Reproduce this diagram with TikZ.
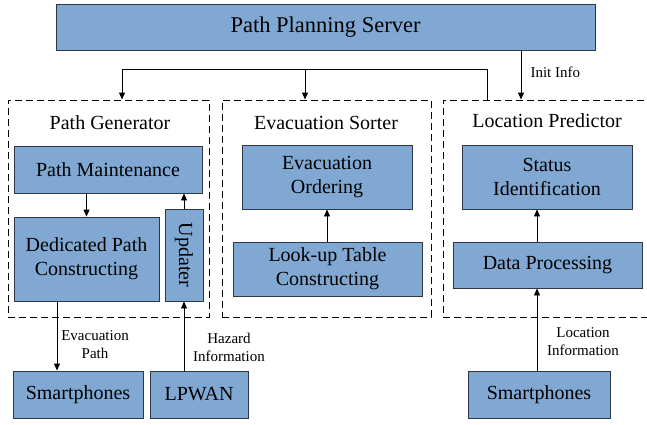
\documentclass[tikz,border=0pt]{standalone}
\usepackage{fontspec}
\setmainfont{Liberation Serif}
\usetikzlibrary{arrows.meta}
\definecolor{boxblue}{RGB}{128,168,210}
\definecolor{boxline}{RGB}{45,55,70}
\begin{document}
\begin{tikzpicture}[x=1pt,y=-1pt,
  blk/.style={draw=boxline, line width=0.9pt, fill=boxblue, inner sep=0pt, align=center, font=\fontsize{20}{24}\selectfont},
  grp/.style={draw=black, line width=0.9pt, dash pattern=on 7pt off 4pt, inner sep=0pt},
  ttl/.style={font=\fontsize{20}{24}\selectfont},
  lbl/.style={font=\fontsize{15}{18}\selectfont, align=center},
  arr/.style={-{Triangle[length=7pt,width=6pt]}, line width=0.9pt},
  ln/.style={line width=0.9pt}]
\clip (0,0) rectangle (647,424);
% server
\node[blk, font=\fontsize{22.5}{26}\selectfont, minimum width=539pt, minimum height=46pt] (srv) at (325.5,27) {Path Planning Server};
% groups
\node[grp, minimum width=201pt, minimum height=217pt] (pg) at (108.5,208.5) {};
\node[grp, minimum width=209pt, minimum height=217pt] (es) at (326.5,208.5) {};
\node[grp, minimum width=212pt, minimum height=217pt] (lp) at (549,208.5) {};
% titles
\node[ttl] (pgt) at (110,123) {Path Generator};
\node[ttl] (est) at (326,123) {Evacuation Sorter};
\node[ttl] (lpt) at (547,121) {Location Predictor};
% path generator blocks
\node[blk, minimum width=188pt, minimum height=47pt] (pm) at (108,169.5) {Path Maintenance};
\node[blk, minimum width=145pt, minimum height=84pt] (dpc) at (86.5,259) {Dedicated Path\\Constructing};
\node[blk, minimum width=38pt, minimum height=92pt] (upd) at (184,255) {};
\node[font=\fontsize{20}{24}\selectfont, rotate=-90] (updt) at (upd.center) {Updater};
% evacuation sorter blocks
\node[blk, minimum width=170pt, minimum height=64pt] (eo) at (327,177) {Evacuation\\Ordering};
\node[blk, minimum width=189pt, minimum height=54pt] (lu) at (327.5,269) {Look-up Table\\Constructing};
% location predictor blocks
\node[blk, minimum width=170pt, minimum height=64pt] (si) at (547,177) {Status\\Identification};
\node[blk, minimum width=189pt, minimum height=46pt] (dp) at (547.5,265) {Data Processing};
% bottom blocks
\node[blk, minimum width=130pt, minimum height=47pt] (sml) at (78,394.5) {Smartphones};
\node[blk, minimum width=98pt, minimum height=47pt] (lpw) at (199,394.5) {LPWAN};
\node[blk, minimum width=142pt, minimum height=47pt] (smr) at (539,394.5) {Smartphones};
% helper coordinates
\coordinate (initx) at (521,0);
\coordinate (distx) at (487,69);
\coordinate (pgx) at (122,0);
\coordinate (esx) at (305,0);
\coordinate (evx) at (57,0);
\coordinate (locx) at (537,0);
% connectors
\draw[arr] (srv.south -| initx) -- (lp.north -| initx);
\draw[ln] (lp.north -| distx) -- (distx);
\draw[arr] (distx) -| (pg.north -| pgx);
\draw[arr] (distx -| esx) -- (es.north -| esx);
\node[lbl, anchor=west] (initl) at (527,72) {Init Info};
\draw[arr] (pm.south -| dpc.north) -- (dpc.north);
\draw[arr] (upd.north) -- (upd.north |- pm.south);
\draw[arr] (lu.north -| eo.south) -- (eo.south);
\draw[arr] (dp.north -| locx) -- (si.south -| locx);
\draw[arr] (dpc.south -| evx) -- (sml.north -| evx);
\draw[arr] (lpw.north -| upd.south) -- (upd.south);
\draw[arr] (smr.north -| locx) -- (dp.south -| locx);
\node[lbl] (evl) at (95,345) {Evacuation\\Path};
\node[lbl] (hzl) at (229,347) {Hazard\\Information};
\node[lbl] (lol) at (583,342) {Location\\Information};
\end{tikzpicture}
\end{document}
